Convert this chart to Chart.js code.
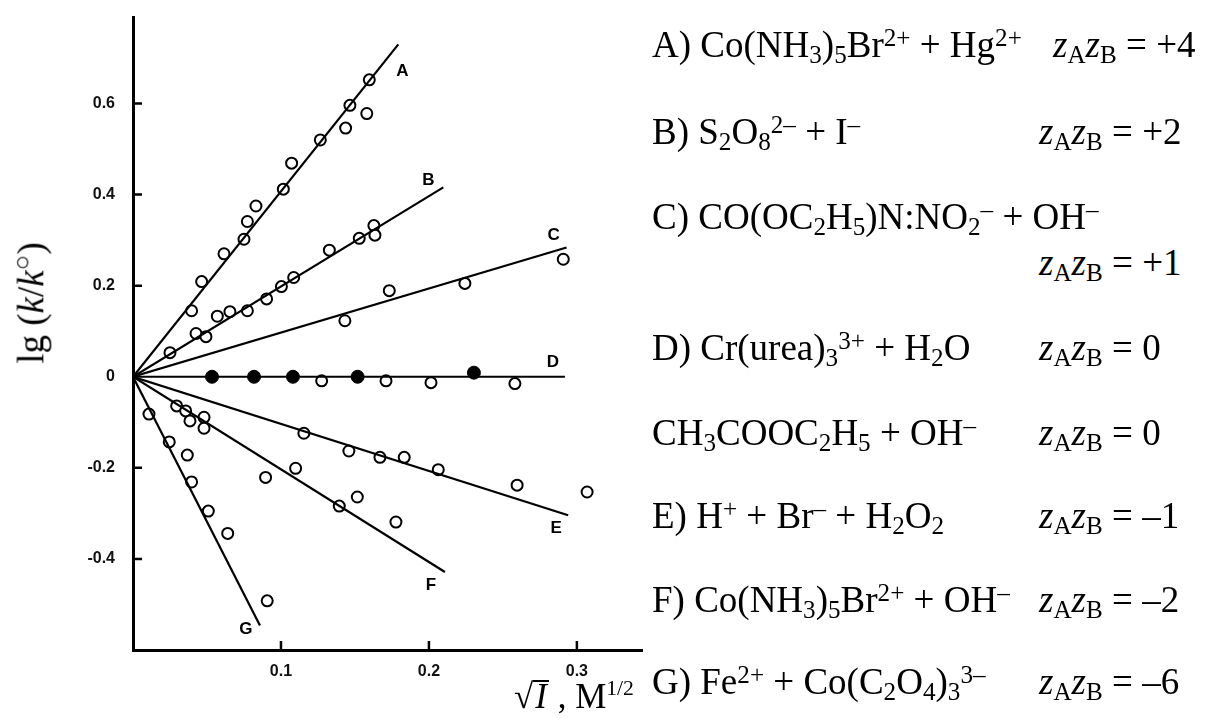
<!DOCTYPE html>
<html>
<head>
<meta charset="utf-8">
<script src="https://cdn.jsdelivr.net/npm/chart.js@4.4.1/dist/chart.umd.min.js"></script>
<style>
  html, body { margin: 0; padding: 0; background: #fff; }
  #page { position: relative; width: 1219px; height: 718px; overflow: hidden; background: #fff; }
  #plot { position: absolute; left: 0; top: 0; width: 660px; height: 718px; }
  .serif { font-family: "Liberation Serif", "Times New Roman", serif; color: #000; }
  .row { position: absolute; white-space: nowrap; font-size: 37px; line-height: 44px; }
  .row sub, .row sup { font-size: 0.68em; line-height: 0; }
  .row sub { vertical-align: -0.22em; }
  .row sup { vertical-align: 0.42em; }
  #ytitle { position: absolute; left: 30px; top: 303px; font-size: 37px; white-space: nowrap;
            transform: translate(-50%, -50%) rotate(-90deg); }
  #xtitle { position: absolute; left: 514px; top: 669px; font-size: 35px; white-space: nowrap; line-height: 38px; }
  .vinc { display: inline-block; border-top: 2px solid #000; line-height: 30px; padding: 0 2px; }
</style>
</head>
<body>
<div id="page">
  <div id="plot"><canvas id="c"></canvas></div>

  <div id="ytitle" class="serif">lg (<i>k</i>/<i>k</i><sup style="font-size:0.7em">○</sup>)</div>
  <div id="xtitle" class="serif">√<span class="vinc"><i>I</i></span> , M<sup style="font-size:0.62em">1/2</sup></div>

  <div class="row serif" style="left:652px; top:23px;">A) Co(NH<sub>3</sub>)<sub>5</sub>Br<sup>2+</sup> + Hg<sup>2+</sup></div>
  <div class="row serif" style="left:1053px; top:23px;"><i>z</i><sub>A</sub><i>z</i><sub>B</sub> = +4</div>

  <div class="row serif" style="left:652px; top:110px;">B) S<sub>2</sub>O<sub>8</sub><sup>2–</sup> + I<sup>–</sup></div>
  <div class="row serif" style="left:1039px; top:110px;"><i>z</i><sub>A</sub><i>z</i><sub>B</sub> = +2</div>

  <div class="row serif" style="left:652px; top:195px;">C) CO(OC<sub>2</sub>H<sub>5</sub>)N:NO<sub>2</sub><sup>–</sup> + OH<sup>–</sup></div>
  <div class="row serif" style="left:1039px; top:241px;"><i>z</i><sub>A</sub><i>z</i><sub>B</sub> = +1</div>

  <div class="row serif" style="left:652px; top:326px;">D) Cr(urea)<sub>3</sub><sup>3+</sup> + H<sub>2</sub>O</div>
  <div class="row serif" style="left:1039px; top:326px;"><i>z</i><sub>A</sub><i>z</i><sub>B</sub> = 0</div>

  <div class="row serif" style="left:652px; top:411px;">CH<sub>3</sub>COOC<sub>2</sub>H<sub>5</sub> + OH<sup>–</sup></div>
  <div class="row serif" style="left:1039px; top:411px;"><i>z</i><sub>A</sub><i>z</i><sub>B</sub> = 0</div>

  <div class="row serif" style="left:652px; top:494px;">E) H<sup>+</sup> + Br<sup>–</sup> + H<sub>2</sub>O<sub>2</sub></div>
  <div class="row serif" style="left:1039px; top:494px;"><i>z</i><sub>A</sub><i>z</i><sub>B</sub> = –1</div>

  <div class="row serif" style="left:652px; top:578px;">F) Co(NH<sub>3</sub>)<sub>5</sub>Br<sup>2+</sup> + OH<sup>–</sup></div>
  <div class="row serif" style="left:1039px; top:578px;"><i>z</i><sub>A</sub><i>z</i><sub>B</sub> = –2</div>

  <div class="row serif" style="left:652px; top:660px;">G) Fe<sup>2+</sup> + Co(C<sub>2</sub>O<sub>4</sub>)<sub>3</sub><sup>3–</sup></div>
  <div class="row serif" style="left:1039px; top:660px;"><i>z</i><sub>A</sub><i>z</i><sub>B</sub> = –6</div>
</div>

<script>
// Measured points, x = sqrt(I) in M^1/2, y = lg(k/k0)
const seriesA_x = [0.0396, 0.0464, 0.0615, 0.0750, 0.0773, 0.0831, 0.1016, 0.1072, 0.1266, 0.1437, 0.1466, 0.1580, 0.1597];
const seriesA_y = [0.145, 0.209, 0.270, 0.302, 0.341, 0.375, 0.412, 0.469, 0.520, 0.546, 0.596, 0.578, 0.652];

const seriesB_x = [0.0250, 0.0426, 0.0493, 0.0570, 0.0655, 0.0773, 0.0903, 0.1003, 0.1086, 0.1327, 0.1529, 0.1628, 0.1635];
const seriesB_y = [0.053, 0.095, 0.088, 0.133, 0.143, 0.145, 0.171, 0.198, 0.218, 0.278, 0.304, 0.332, 0.311];

const seriesC_x = [0.1432, 0.1732, 0.2243, 0.2908];
const seriesC_y = [0.123, 0.189, 0.205, 0.258];

// D: Cr(urea)3 3+ (filled) and ethyl acetate (open)
const seriesD_x = [0.0534, 0.0818, 0.1081, 0.1518, 0.2304];
const seriesD_y = [0.000, 0.000, 0.000, 0.000, 0.009];
const seriesD2_x = [0.1275, 0.1710, 0.2014, 0.2581];
const seriesD2_y = [-0.009, -0.009, -0.013, -0.015];

const seriesE_x = [0.1155, 0.1459, 0.1669, 0.1833, 0.2063, 0.2596, 0.3069];
const seriesE_y = [-0.124, -0.163, -0.177, -0.177, -0.204, -0.238, -0.253];

const seriesF_x = [0.0295, 0.0356, 0.0385, 0.0480, 0.0480, 0.0896, 0.1099, 0.1394, 0.1516, 0.1777];
const seriesF_y = [-0.064, -0.075, -0.097, -0.089, -0.113, -0.221, -0.201, -0.284, -0.264, -0.319];

const seriesG_x = [0.0108, 0.0245, 0.0367, 0.0396, 0.0509, 0.0640, 0.0907];
const seriesG_y = [-0.082, -0.143, -0.172, -0.231, -0.295, -0.344, -0.492];

// Limiting-law lines, each drawn from the origin to its end point
const lineNames = ['A', 'B', 'C', 'D', 'E', 'F', 'G'];
const lineEnd_x = [0.1793, 0.2097, 0.2930, 0.2919, 0.2941, 0.2108, 0.0858];
const lineEnd_y = [0.730, 0.416, 0.284, 0.000, -0.304, -0.4286, -0.546];

// Axis ticks
const xTicks = [0.1, 0.2, 0.3];
const xTickLabels = ['0.1', '0.2', '0.3'];
const yTicks = [0.6, 0.4, 0.2, 0, -0.2, -0.4];
const yTickLabels = ['0.6', '0.4', '0.2', '0', '-0.2', '-0.4'];

const toPts = (xs, ys) => xs.map((x, i) => ({ x: x, y: ys[i] }));

// pixel offsets of the letter beside each line's end
const letterOffsets = [[4, 27], [-15, -7], [-13, -12], [-12, -14], [-12, 13], [-14, 13], [-14, 4]];

const lineSets = lineNames.map((n, i) => ({
  type: 'line',
  label: 'line ' + n,
  data: [{ x: 0, y: 0 }, { x: lineEnd_x[i], y: lineEnd_y[i] }],
  borderColor: '#000',
  borderWidth: 2.2,
  pointRadius: 0,
  fill: false,
  tension: 0
}));

const openStyle = { pointStyle: 'circle', pointRadius: 5.5, pointBorderWidth: 2, borderColor: '#000', backgroundColor: '#fff', showLine: false };

const pointSets = [
  Object.assign({ label: 'A', data: toPts(seriesA_x, seriesA_y) }, openStyle),
  Object.assign({ label: 'B', data: toPts(seriesB_x, seriesB_y) }, openStyle),
  Object.assign({ label: 'C', data: toPts(seriesC_x, seriesC_y) }, openStyle),
  Object.assign({ label: 'D2', data: toPts(seriesD2_x, seriesD2_y) }, openStyle),
  Object.assign({ label: 'E', data: toPts(seriesE_x, seriesE_y) }, openStyle),
  Object.assign({ label: 'F', data: toPts(seriesF_x, seriesF_y) }, openStyle),
  Object.assign({ label: 'G', data: toPts(seriesG_x, seriesG_y) }, openStyle),
  { label: 'D', data: toPts(seriesD_x, seriesD_y), pointStyle: 'circle', pointRadius: 6.5, pointBorderWidth: 1,
    borderColor: '#000', backgroundColor: '#000', showLine: false }
];

// short inward tick marks and the letter beside each line
const decorations = {
  id: 'decorations',
  afterDatasetsDraw(chart) {
    const ctx = chart.ctx;
    const xs = chart.scales.x, ys = chart.scales.y;
    const a = chart.chartArea;
    ctx.save();
    ctx.strokeStyle = '#000';
    ctx.lineWidth = 2.5;
    ctx.beginPath();
    xTicks.forEach(v => {
      const px = xs.getPixelForValue(v);
      ctx.moveTo(px, a.bottom);
      ctx.lineTo(px, a.bottom - 9);
    });
    yTicks.forEach(v => {
      if (v === 0) return;
      const py = ys.getPixelForValue(v);
      ctx.moveTo(a.left, py);
      ctx.lineTo(a.left + 9, py);
    });
    ctx.stroke();

    ctx.fillStyle = '#000';
    ctx.font = 'bold 17px "Liberation Sans", Arial, sans-serif';
    ctx.textAlign = 'center';
    ctx.textBaseline = 'middle';
    lineNames.forEach((n, i) => {
      const px = xs.getPixelForValue(lineEnd_x[i]) + letterOffsets[i][0];
      const py = ys.getPixelForValue(lineEnd_y[i]) + letterOffsets[i][1];
      ctx.fillText(n, px, py);
    });
    ctx.restore();
  }
};

// fixed axis boxes so the plot frame lands where it should
const fixBox = (size, key) => s => {
  s[key] = size;
  s.paddingTop = 0; s.paddingBottom = 0; s.paddingLeft = 0; s.paddingRight = 0;
};

new Chart(document.getElementById('c'), {
  type: 'scatter',
  data: { datasets: lineSets.concat(pointSets) },
  options: {
    responsive: true,
    maintainAspectRatio: false,
    animation: false,
    devicePixelRatio: 1,
    layout: { autoPadding: false, padding: { left: 33, top: 17, right: 18, bottom: 28 } },
    plugins: { legend: { display: false }, tooltip: { enabled: false } },
    scales: {
      x: {
        type: 'linear',
        position: 'bottom',
        min: 0,
        max: 0.344,
        afterBuildTicks: s => { s.ticks = xTicks.map(v => ({ value: v })); },
        afterFit: fixBox(40, 'height'),
        grid: { display: true, drawOnChartArea: false, drawTicks: false },
        border: { display: true, color: '#000', width: 3 },
        ticks: {
          color: '#111',
          padding: 12,
          font: { family: '"Liberation Sans", Arial, sans-serif', weight: 'bold', size: 16 },
          callback: v => xTickLabels[xTicks.indexOf(v)] ?? ''
        }
      },
      y: {
        type: 'linear',
        position: 'left',
        min: -0.6,
        max: 0.79,
        afterBuildTicks: s => { s.ticks = yTicks.map(v => ({ value: v })); },
        afterFit: fixBox(100, 'width'),
        grid: { display: true, drawOnChartArea: false, drawTicks: false },
        border: { display: true, color: '#000', width: 3 },
        ticks: {
          color: '#111',
          padding: 18,
          font: { family: '"Liberation Sans", Arial, sans-serif', weight: 'bold', size: 16 },
          callback: v => yTickLabels[yTicks.indexOf(v)] ?? ''
        }
      }
    }
  },
  plugins: [decorations]
});
</script>
</body>
</html>
